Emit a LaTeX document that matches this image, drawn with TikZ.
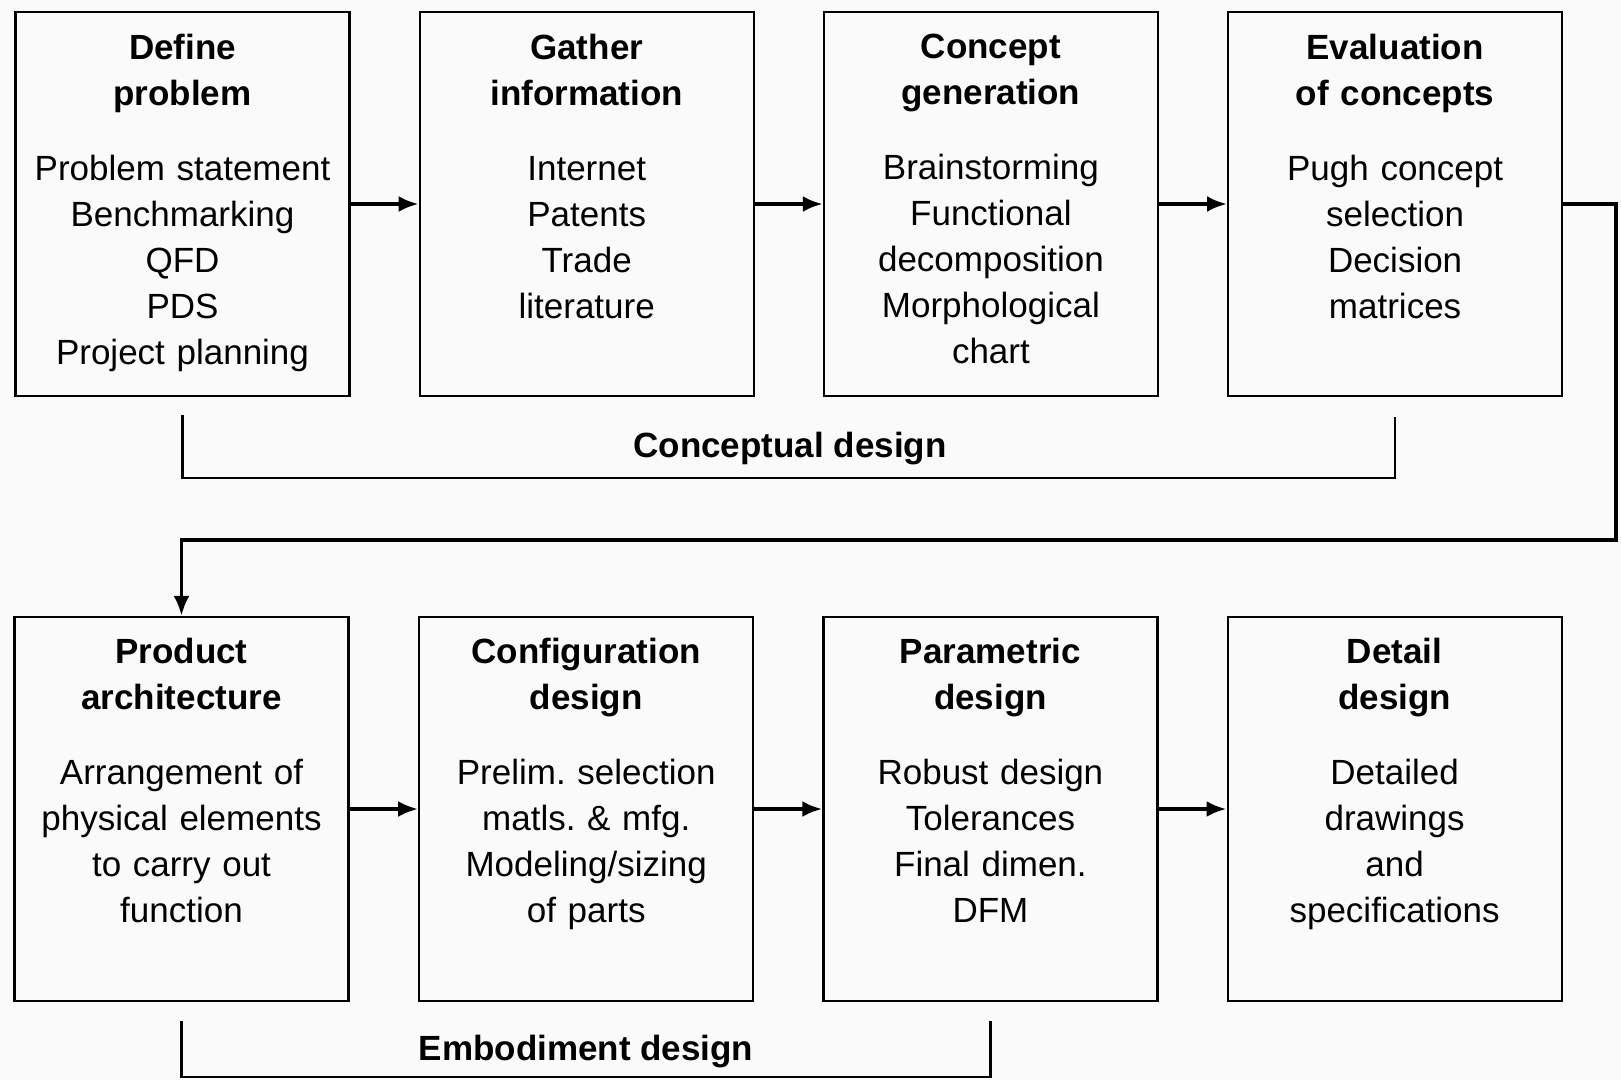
\documentclass[tikz,border=0pt]{standalone}
\usepackage{fontspec}
\setmainfont{Liberation Sans}
\usetikzlibrary{positioning, arrows.meta}
\frenchspacing

\begin{document}
\begin{tikzpicture}[x=1pt, y=-1pt,
    stage/.style={draw, line width=2.2pt, minimum width=334pt, minimum height=384pt, inner sep=0pt},
    stagetext/.style={anchor=north, text width=330pt, align=center, inner sep=0pt, font=\fontsize{35}{46}\selectfont},
    flow/.style={line width=3.8pt, -{Latex[length=20pt, width=16pt]}},
    bracket/.style={line width=2.2pt},
    phase/.style={font=\bfseries\fontsize{35}{42}\selectfont}]
        \useasboundingbox[fill=gray!4] (0,0) rectangle (1621,1080);

        \node[stage] (dp) at (182.5,204) {};
        \node[stage, right=68pt of dp] (gi) {};
        \node[stage, right=68pt of gi] (cg) {};
        \node[stage, right=68pt of cg] (ec) {};
        \node[stage] (pa) at (181.5,809) {};
        \node[stage, right=68.5pt of pa] (cf) {};
        \node[stage, right=68pt of cf] (pm) {};
        \node[stage, right=68pt of pm] (dd) {};

        \node[stagetext] (dp-t) at ([yshift=-23pt]dp.north) {{\bfseries Define\\problem}\\[29pt]Problem statement\\Benchmarking\\QFD\\PDS\\Project planning};
        \node[stagetext] (gi-t) at ([yshift=-23pt]gi.north) {{\bfseries Gather\\information}\\[29pt]Internet\\Patents\\Trade\\literature};
        \node[stagetext] (cg-t) at ([yshift=-23pt]cg.north) {{\bfseries Concept\\generation}\\[29pt]Brainstorming\\Functional\\decomposition\\Morphological\\chart};
        \node[stagetext] (ec-t) at ([yshift=-23pt]ec.north) {{\bfseries Evaluation\\of concepts}\\[29pt]Pugh concept\\selection\\Decision\\matrices};
        \node[stagetext] (pa-t) at ([yshift=-22pt]pa.north) {{\bfseries Product\\architecture}\\[29pt]Arrangement of\\physical elements\\to carry out\\function};
        \node[stagetext] (cf-t) at ([yshift=-22pt]cf.north) {{\bfseries Configuration\\design}\\[29pt]Prelim. selection\\matls. \& mfg.\\Modeling/sizing\\of parts};
        \node[stagetext] (pm-t) at ([yshift=-22pt]pm.north) {{\bfseries Parametric\\design}\\[29pt]Robust design\\Tolerances\\Final dimen.\\DFM};
        \node[stagetext] (dd-t) at ([yshift=-22pt]dd.north) {{\bfseries Detail\\design}\\[29pt]Detailed\\drawings\\and\\specifications};

        \draw[flow] (dp) -- (gi);
        \draw[flow] (gi) -- (cg);
        \draw[flow] (cg) -- (ec);
        \draw[flow] (pa) -- (cf);
        \draw[flow] (cf) -- (pm);
        \draw[flow] (pm) -- (dd);

        \coordinate (turn) at (1616,540);
        \draw[flow] (ec.east) -| (turn) -| (pa.north);

        \coordinate (cd) at (790,478);
        \draw[bracket] ([yshift=-18pt]dp.south) |- (cd) -| ([yshift=-20pt]ec.south);
        \node[phase] (cd-l) at (790,449) {Conceptual design};

        \coordinate (ed) at (586,1077);
        \draw[bracket] ([yshift=-19pt]pa.south) |- (ed) -| ([yshift=-19pt]pm.south);
        \node[phase] (ed-l) at (586,1052) {Embodiment design};
    \end{tikzpicture}
\end{document}
